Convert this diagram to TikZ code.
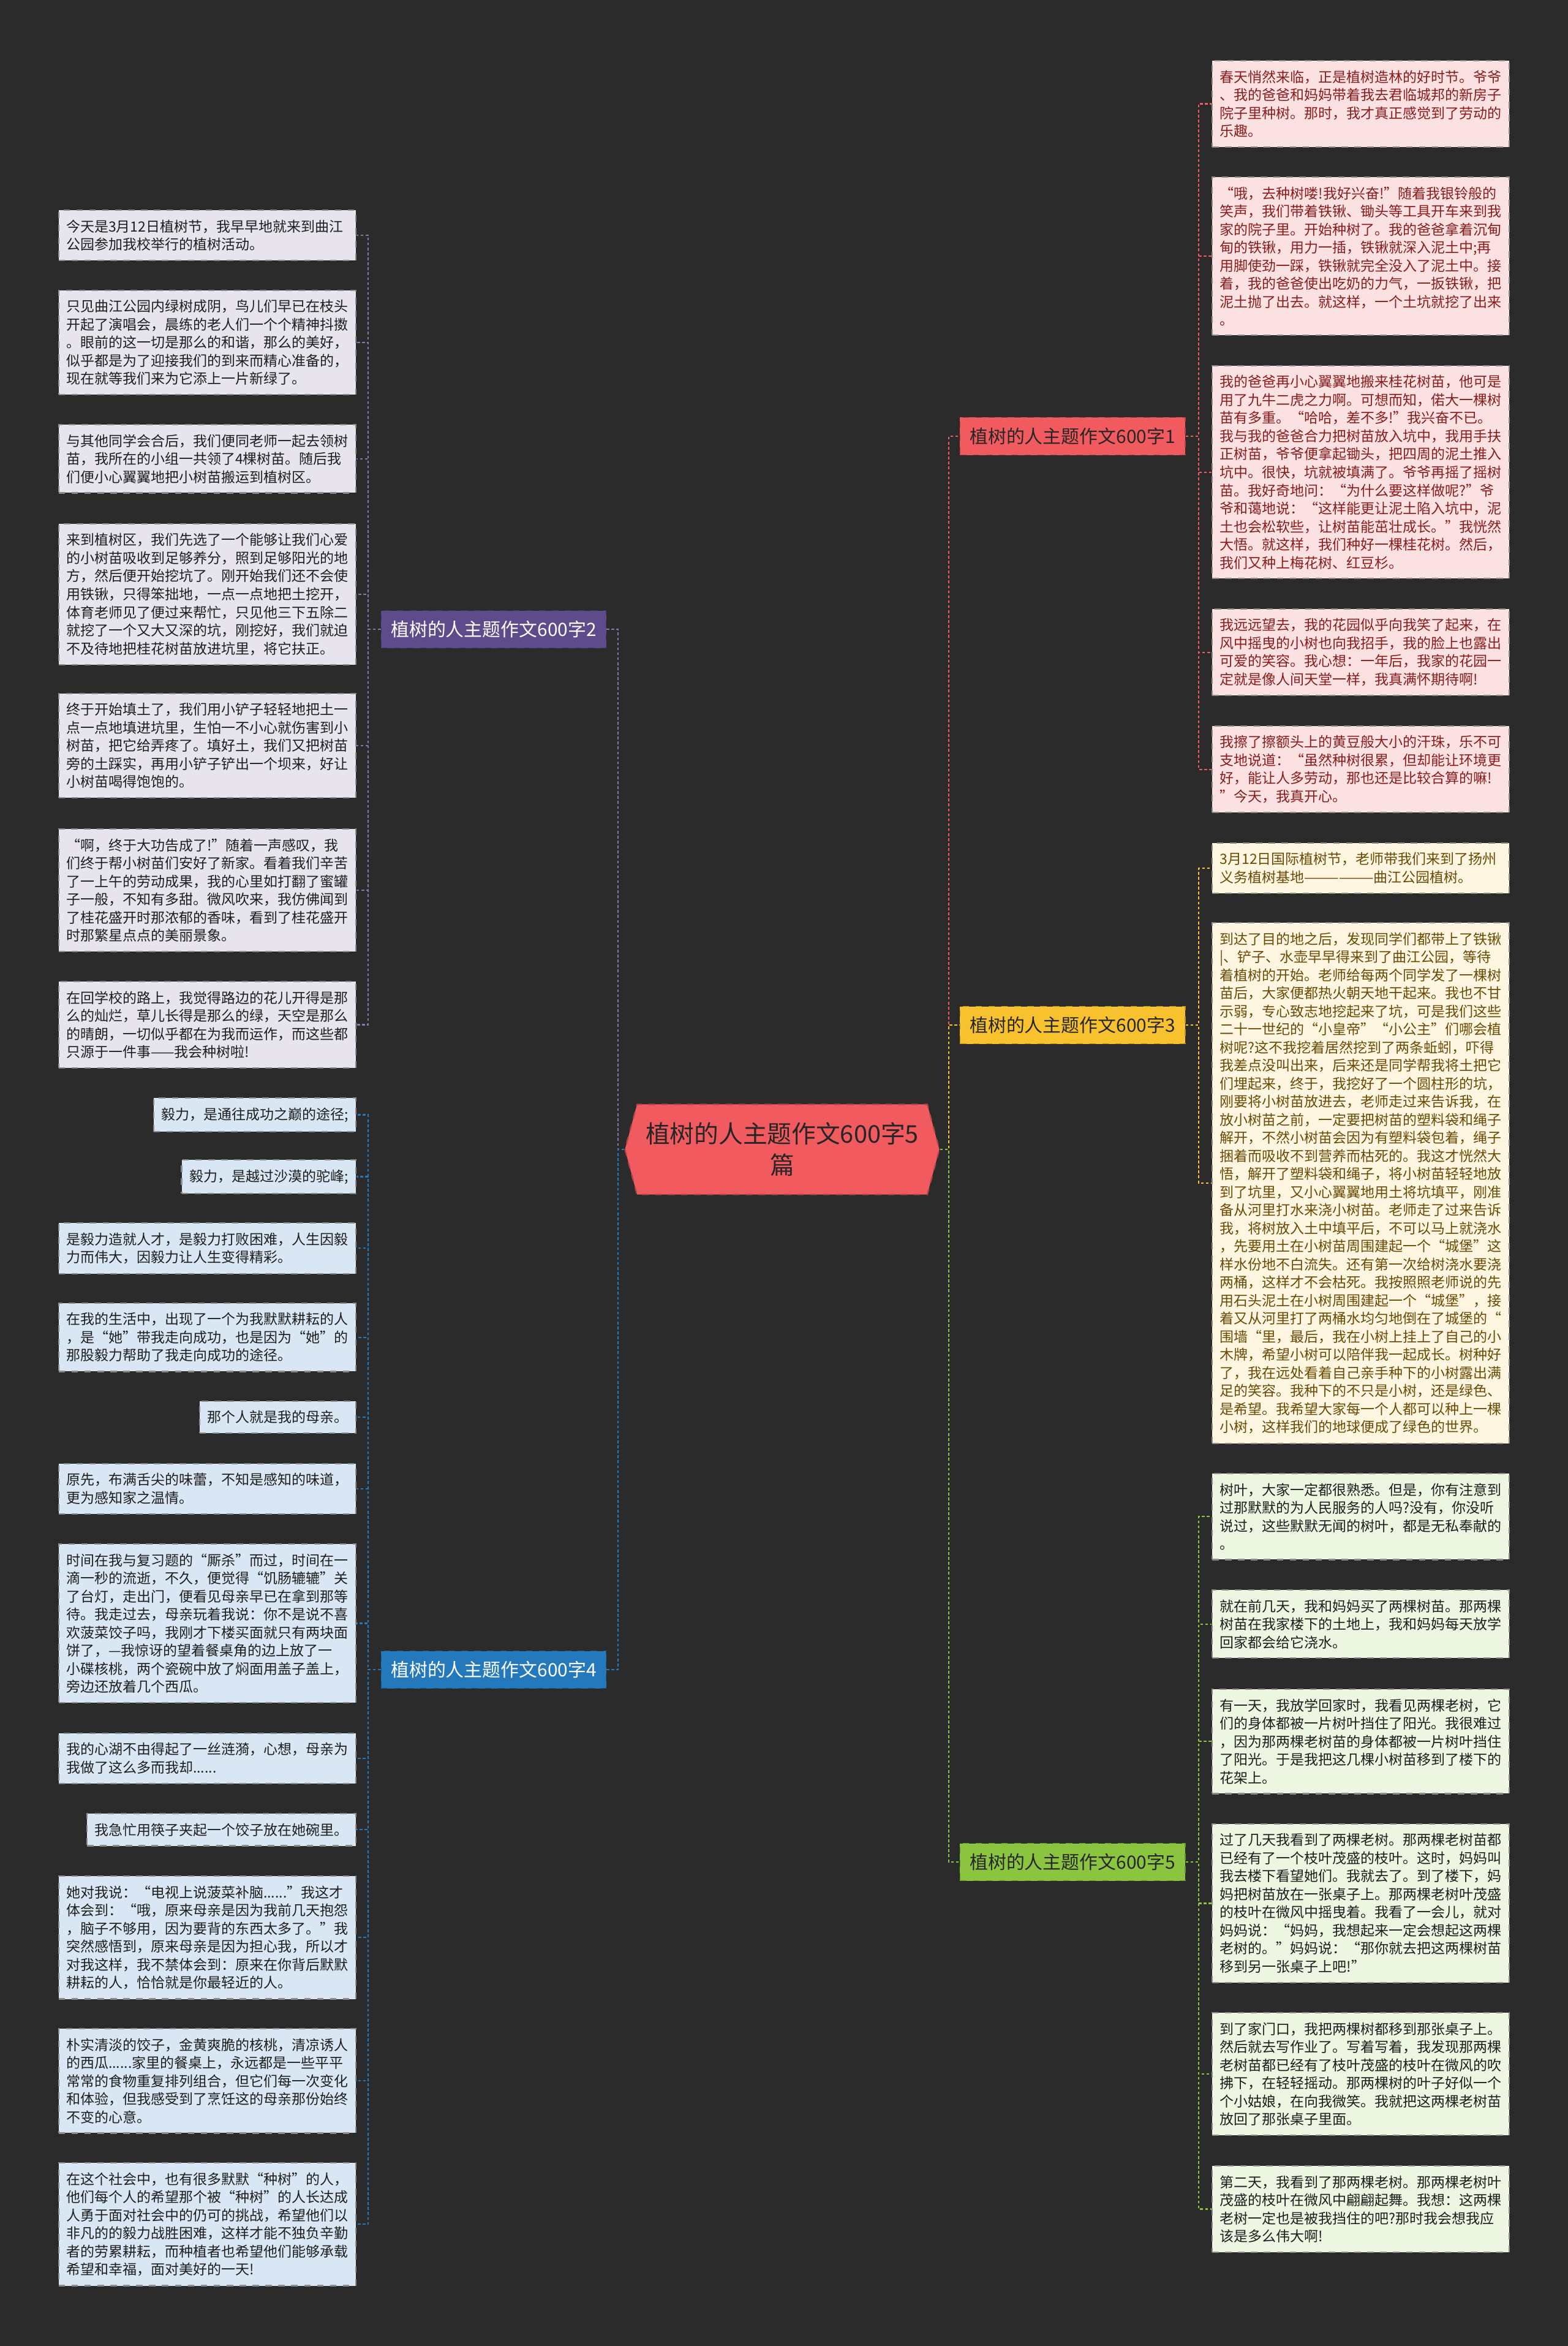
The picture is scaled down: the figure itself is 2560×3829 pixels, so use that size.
\documentclass[tikz,border=0pt]{standalone}
\usepackage{fontspec}
\setmainfont{Noto Sans CJK SC}
\usepackage{tikz}
\usetikzlibrary{positioning,shapes.symbols}
\definecolor{smbg}{HTML}{2B2B2B}
\definecolor{smred}{HTML}{F15B5F}
\definecolor{smpurple}{HTML}{5E4B8C}
\definecolor{smyellow}{HTML}{F8C22E}
\definecolor{smblue}{HTML}{2479BD}
\definecolor{smgreen}{HTML}{8BC53F}
\definecolor{smredtxt}{HTML}{8A1C1C}
\definecolor{smyeltxt}{HTML}{6A4A05}
\definecolor{smdarktxt}{HTML}{1E1E1E}
\newcommand{\smLeafR}{smred!18}
\newcommand{\smLeafP}{smpurple!15}
\newcommand{\smLeafY}{smyellow!15}
\newcommand{\smLeafB}{smblue!18}
\newcommand{\smLeafG}{smgreen!16}
\newcommand{\smLeafFont}{\fontsize{6.54pt}{8.39pt}\selectfont}
\tikzset{
  smroot/.style={shape=signal, signal to=west and east, signal pointer angle=150,
                 fill=smred, draw=smred!75!black, dashed, line width=0.6pt,
                 minimum width=5.13cm, minimum height=1.47cm, inner sep=0pt,
                 align=center, text=black!85, font=\fontsize{11.3pt}{14.5pt}\selectfont},
  smbranch/.style={fill=#1, draw=#1!75!black, dashed, line width=0.5pt,
                   minimum width=3.67cm, minimum height=0.61cm, inner sep=0pt,
                   font=\fontsize{8.5pt}{10pt}\selectfont},
  leafbase/.style={draw=black!45, dashed, line width=0.6pt, inner xsep=0.125cm,
                   inner ysep=4.4pt, align=left, font=\smLeafFont},
  leafwide/.style={text width=4.6cm},
  leafR/.style={leafbase, fill=\smLeafR, text=smredtxt},
  leafP/.style={leafbase, fill=\smLeafP, text=smdarktxt},
  leafY/.style={leafbase, fill=\smLeafY, text=smyeltxt},
  leafB/.style={leafbase, fill=\smLeafB, text=smdarktxt},
  leafG/.style={leafbase, fill=\smLeafG, text=smdarktxt},
  smlink/.style={line width=0.6pt, dash pattern=on 1.3pt off 1pt},
}

\begin{document}
\begin{tikzpicture}[x=0.01cm, y=-0.01cm]
  \useasboundingbox (0,0) rectangle (2560,3829);
  \fill[smbg] (0,0) rectangle (2560,3829);

  % trunk columns
  \coordinate (cl) at (1009,0);
  \coordinate (cr) at (1549,0);
  \coordinate (lt) at (601,0);
  \coordinate (rt) at (1957,0);

  \node[smroot] (C) at (1277,1876) {植树的人主题作文600字5\\篇};

  \node[smbranch=smred, text=black!85] (B1) at (1751,712) {植树的人主题作文600字1};
  \node[smbranch=smpurple, text=white] (B2) at (806,1027) {植树的人主题作文600字2};
  \node[smbranch=smyellow, text=black!85] (B3) at (1751,1673) {植树的人主题作文600字3};
  \node[smbranch=smblue, text=white] (B4) at (806,2725) {植树的人主题作文600字4};
  \node[smbranch=smgreen, text=black!85] (B5) at (1751,3039) {植树的人主题作文600字5};

  % essay 2
  \node[leafP, leafwide, anchor=north east] (L1) at (582,342) {今天是3月12日植树节，我早早地就来到曲江\\公园参加我校举行的植树活动。};
  \node[leafP, leafwide, anchor=north east] (L2) at (582,473) {只见曲江公园内绿树成阴，鸟儿们早已在枝头\\开起了演唱会，晨练的老人们一个个精神抖擞\\。眼前的这一切是那么的和谐，那么的美好，\\似乎都是为了迎接我们的到来而精心准备的，\\现在就等我们来为它添上一片新绿了。};
  \node[leafP, leafwide, anchor=north east] (L3) at (582,692) {与其他同学会合后，我们便同老师一起去领树\\苗，我所在的小组一共领了4棵树苗。随后我\\们便小心翼翼地把小树苗搬运到植树区。};
  \node[leafP, leafwide, anchor=north east] (L4) at (582,854) {来到植树区，我们先选了一个能够让我们心爱\\的小树苗吸收到足够养分，照到足够阳光的地\\方，然后便开始挖坑了。刚开始我们还不会使\\用铁锹，只得笨拙地，一点一点地把土挖开，\\体育老师见了便过来帮忙，只见他三下五除二\\就挖了一个又大又深的坑，刚挖好，我们就迫\\不及待地把桂花树苗放进坑里，将它扶正。};
  \node[leafP, leafwide, anchor=north east] (L5) at (582,1131) {终于开始填土了，我们用小铲子轻轻地把土一\\点一点地填进坑里，生怕一不小心就伤害到小\\树苗，把它给弄疼了。填好土，我们又把树苗\\旁的土踩实，再用小铲子铲出一个坝来，好让\\小树苗喝得饱饱的。};
  \node[leafP, leafwide, anchor=north east] (L6) at (582,1352) {“啊，终于大功告成了!”随着一声感叹，我\\们终于帮小树苗们安好了新家。看着我们辛苦\\了一上午的劳动成果，我的心里如打翻了蜜罐\\子一般，不知有多甜。微风吹来，我仿佛闻到\\了桂花盛开时那浓郁的香味，看到了桂花盛开\\时那繁星点点的美丽景象。};
  \node[leafP, leafwide, anchor=north east] (L7) at (582,1601) {在回学校的路上，我觉得路边的花儿开得是那\\么的灿烂，草儿长得是那么的绿，天空是那么\\的晴朗，一切似乎都在为我而运作，而这些都\\只源于一件事——我会种树啦!};

  % essay 4
  \node[leafB, anchor=north east] (L8) at (582,1791) {毅力，是通往成功之巅的途径;};
  \node[leafB, anchor=north east] (L9) at (582,1892) {毅力，是越过沙漠的驼峰;};
  \node[leafB, leafwide, anchor=north east] (L10) at (582,1995) {是毅力造就人才，是毅力打败困难，人生因毅\\力而伟大，因毅力让人生变得精彩。};
  \node[leafB, leafwide, anchor=north east] (L11) at (582,2126) {在我的生活中，出现了一个为我默默耕耘的人\\，是“她”带我走向成功，也是因为“她”的\\那股毅力帮助了我走向成功的途径。};
  \node[leafB, anchor=north east] (L12) at (582,2286) {那个人就是我的母亲。};
  \node[leafB, leafwide, anchor=north east] (L13) at (582,2388) {原先，布满舌尖的味蕾，不知是感知的味道，\\更为感知家之温情。};
  \node[leafB, leafwide, anchor=north east] (L14) at (582,2519) {时间在我与复习题的“厮杀”而过，时间在一\\滴一秒的流逝，不久，便觉得“饥肠辘辘”关\\了台灯，走出门，便看见母亲早已在拿到那等\\待。我走过去，母亲玩着我说：你不是说不喜\\欢菠菜饺子吗，我刚才下楼买面就只有两块面\\饼了，—我惊讶的望着餐桌角的边上放了一\\小碟核桃，两个瓷碗中放了焖面用盖子盖上，\\旁边还放着几个西瓜。};
  \node[leafB, leafwide, anchor=north east] (L15) at (582,2828) {我的心湖不由得起了一丝涟漪，心想，母亲为\\我做了这么多而我却......};
  \node[leafB, anchor=north east] (L16) at (582,2959) {我急忙用筷子夹起一个饺子放在她碗里。};
  \node[leafB, leafwide, anchor=north east] (L17) at (582,3061) {她对我说：“电视上说菠菜补脑......”我这才\\体会到：“哦，原来母亲是因为我前几天抱怨\\，脑子不够用，因为要背的东西太多了。”我\\突然感悟到，原来母亲是因为担心我，所以才\\对我这样，我不禁体会到：原来在你背后默默\\耕耘的人，恰恰就是你最轻近的人。};
  \node[leafB, leafwide, anchor=north east] (L18) at (582,3310) {朴实清淡的饺子，金黄爽脆的核桃，清凉诱人\\的西瓜......家里的餐桌上，永远都是一些平平\\常常的食物重复排列组合，但它们每一次变化\\和体验，但我感受到了烹饪这的母亲那份始终\\不变的心意。};
  \node[leafB, leafwide, anchor=north east] (L19) at (582,3529) {在这个社会中，也有很多默默“种树”的人，\\他们每个人的希望那个被“种树”的人长达成\\人勇于面对社会中的仍可的挑战，希望他们以\\非凡的的毅力战胜困难，这样才能不独负辛勤\\者的劳累耕耘，而种植者也希望他们能够承载\\希望和幸福，面对美好的一天!};

  % essay 1
  \node[leafR, leafwide, anchor=north west] (R1) at (1978,98) {春天悄然来临，正是植树造林的好时节。爷爷\\、我的爸爸和妈妈带着我去君临城邦的新房子\\院子里种树。那时，我才真正感觉到了劳动的\\乐趣。};
  \node[leafR, leafwide, anchor=north west] (R2) at (1978,288) {“哦，去种树喽!我好兴奋!”随着我银铃般的\\笑声，我们带着铁锹、锄头等工具开车来到我\\家的院子里。开始种树了。我的爸爸拿着沉甸\\甸的铁锹，用力一插，铁锹就深入泥土中;再\\用脚使劲一踩，铁锹就完全没入了泥土中。接\\着，我的爸爸使出吃奶的力气，一扳铁锹，把\\泥土抛了出去。就这样，一个土坑就挖了出来\\。};
  \node[leafR, leafwide, anchor=north west] (R3) at (1978,596) {我的爸爸再小心翼翼地搬来桂花树苗，他可是\\用了九牛二虎之力啊。可想而知，偌大一棵树\\苗有多重。“哈哈，差不多!”我兴奋不已。\\我与我的爸爸合力把树苗放入坑中，我用手扶\\正树苗，爷爷便拿起锄头，把四周的泥土推入\\坑中。很快，坑就被填满了。爷爷再摇了摇树\\苗。我好奇地问：“为什么要这样做呢?”爷\\爷和蔼地说：“这样能更让泥土陷入坑中，泥\\土也会松软些，让树苗能茁壮成长。”我恍然\\大悟。就这样，我们种好一棵桂花树。然后，\\我们又种上梅花树、红豆杉。};
  \node[leafR, leafwide, anchor=north west] (R4) at (1978,993) {我远远望去，我的花园似乎向我笑了起来，在\\风中摇曳的小树也向我招手，我的脸上也露出\\可爱的笑容。我心想：一年后，我家的花园一\\定就是像人间天堂一样，我真满怀期待啊!};
  \node[leafR, leafwide, anchor=north west] (R5) at (1978,1184) {我擦了擦额头上的黄豆般大小的汗珠，乐不可\\支地说道：“虽然种树很累，但却能让环境更\\好，能让人多劳动，那也还是比较合算的嘛!\\”今天，我真开心。};

  % essay 3
  \node[leafY, leafwide, anchor=north west] (R6) at (1978,1375) {3月12日国际植树节，老师带我们来到了扬州\\义务植树基地——————曲江公园植树。};
  \node[leafY, leafwide, anchor=north west] (R7) at (1978,1505) {到达了目的地之后，发现同学们都带上了铁锹\\|、铲子、水壶早早得来到了曲江公园，等待\\着植树的开始。老师给每两个同学发了一棵树\\苗后，大家便都热火朝天地干起来。我也不甘\\示弱，专心致志地挖起来了坑，可是我们这些\\二十一世纪的“小皇帝”“小公主”们哪会植\\树呢?这不我挖着居然挖到了两条蚯蚓，吓得\\我差点没叫出来，后来还是同学帮我将土把它\\们埋起来，终于，我挖好了一个圆柱形的坑，\\刚要将小树苗放进去，老师走过来告诉我，在\\放小树苗之前，一定要把树苗的塑料袋和绳子\\解开，不然小树苗会因为有塑料袋包着，绳子\\捆着而吸收不到营养而枯死的。我这才恍然大\\悟，解开了塑料袋和绳子，将小树苗轻轻地放\\到了坑里，又小心翼翼地用土将坑填平，刚准\\备从河里打水来浇小树苗。老师走了过来告诉\\我，将树放入土中填平后，不可以马上就浇水\\，先要用土在小树苗周围建起一个“城堡”这\\样水份地不白流失。还有第一次给树浇水要浇\\两桶，这样才不会枯死。我按照照老师说的先\\用石头泥土在小树周围建起一个“城堡”，接\\着又从河里打了两桶水均匀地倒在了城堡的“\\围墙“里，最后，我在小树上挂上了自己的小\\木牌，希望小树可以陪伴我一起成长。树种好\\了，我在远处看着自己亲手种下的小树露出满\\足的笑容。我种下的不只是小树，还是绿色、\\是希望。我希望大家每一个人都可以种上一棵\\小树，这样我们的地球便成了绿色的世界。};

  % essay 5
  \node[leafG, leafwide, anchor=north west] (R8) at (1978,2404) {树叶，大家一定都很熟悉。但是，你有注意到\\过那默默的为人民服务的人吗?没有，你没听\\说过，这些默默无闻的树叶，都是无私奉献的\\。};
  \node[leafG, leafwide, anchor=north west] (R9) at (1978,2594) {就在前几天，我和妈妈买了两棵树苗。那两棵\\树苗在我家楼下的土地上，我和妈妈每天放学\\回家都会给它浇水。};
  \node[leafG, leafwide, anchor=north west] (R10) at (1978,2756) {有一天，我放学回家时，我看见两棵老树，它\\们的身体都被一片树叶挡住了阳光。我很难过\\，因为那两棵老树苗的身体都被一片树叶挡住\\了阳光。于是我把这几棵小树苗移到了楼下的\\花架上。};
  \node[leafG, leafwide, anchor=north west] (R11) at (1978,2976) {过了几天我看到了两棵老树。那两棵老树苗都\\已经有了一个枝叶茂盛的枝叶。这时，妈妈叫\\我去楼下看望她们。我就去了。到了楼下，妈\\妈把树苗放在一张桌子上。那两棵老树叶茂盛\\的枝叶在微风中摇曳着。我看了一会儿，就对\\妈妈说：“妈妈，我想起来一定会想起这两棵\\老树的。”妈妈说：“那你就去把这两棵树苗\\移到另一张桌子上吧!”};
  \node[leafG, leafwide, anchor=north west] (R12) at (1978,3284) {到了家门口，我把两棵树都移到那张桌子上。\\然后就去写作业了。写着写着，我发现那两棵\\老树苗都已经有了枝叶茂盛的枝叶在微风的吹\\拂下，在轻轻摇动。那两棵树的叶子好似一个\\个小姑娘，在向我微笑。我就把这两棵老树苗\\放回了那张桌子里面。};
  \node[leafG, leafwide, anchor=north west] (R13) at (1978,3534) {第二天，我看到了那两棵老树。那两棵老树叶\\茂盛的枝叶在微风中翩翩起舞。我想：这两棵\\老树一定也是被我挡住的吧?那时我会想我应\\该是多么伟大啊!};

  % root to branches
  \draw[smlink, smred] (C.east) -- (C.east -| cr) |- (B1.west);
  \draw[smlink, smyellow] (C.east) -- (C.east -| cr) |- (B3.west);
  \draw[smlink, smgreen] (C.east) -- (C.east -| cr) |- (B5.west);
  \draw[smlink, smpurple!75!white] (C.west) -- (C.west -| cl) |- (B2.east);
  \draw[smlink, smblue] (C.west) -- (C.west -| cl) |- (B4.east);

  % branches to leaves
  \foreach \i in {1,...,7}
    \draw[smlink, smpurple!75!white] (B2.west) -- (B2.west -| lt) |- (L\i.east);
  \foreach \i in {8,...,19}
    \draw[smlink, smblue] (B4.west) -- (B4.west -| lt) |- (L\i.east);
  \foreach \i in {1,...,5}
    \draw[smlink, smred] (B1.east) -- (B1.east -| rt) |- (R\i.west);
  \foreach \i in {6,7}
    \draw[smlink, smyellow] (B3.east) -- (B3.east -| rt) |- (R\i.west);
  \foreach \i in {8,...,13}
    \draw[smlink, smgreen] (B5.east) -- (B5.east -| rt) |- (R\i.west);
\end{tikzpicture}
\end{document}
